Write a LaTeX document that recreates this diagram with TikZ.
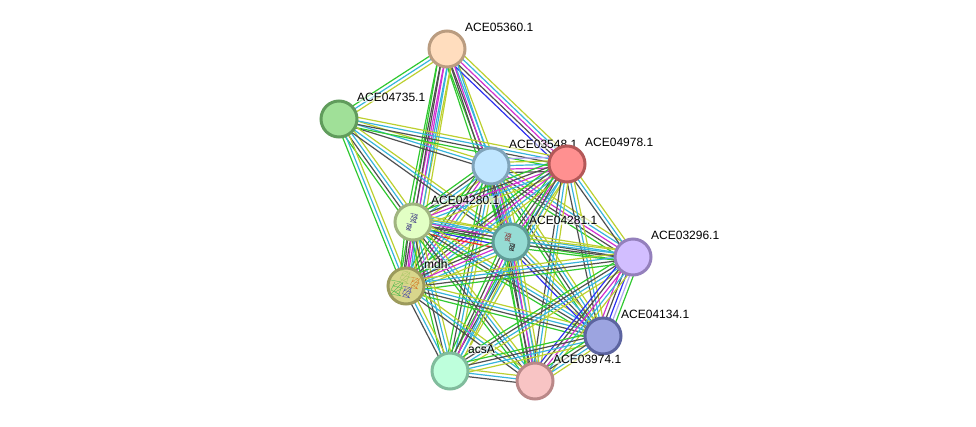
\documentclass[tikz,border=0pt]{standalone}
\usepackage{fontspec}
\setmainfont{Liberation Sans}
\usetikzlibrary{calc, positioning, backgrounds}

\definecolor{eg}{HTML}{30C830}
\definecolor{er}{HTML}{F02820}
\definecolor{eb}{HTML}{3030F0}
\definecolor{ek}{HTML}{505050}
\definecolor{em}{HTML}{D030D0}
\definecolor{ec}{HTML}{38B4DC}
\definecolor{ey}{HTML}{BCD030}
\definecolor{el}{HTML}{B0A8F0}

\tikzset{
  prot/.style={circle, draw, line width=3pt, minimum size=36pt, inner sep=0pt},
  lbl/.style={fill=white, fill opacity=0.6, text opacity=1, inner sep=0.5pt, font=\fontsize{12}{12}\selectfont},
  edge/.style={line width=1.2pt},
  glyph/.style={line width=0.35pt, line join=round}
}

% one bundle of parallel lines, 3.5pt apart
\newcommand{\bundle}[3]{
  \foreach \col [count=\n] in {#3} {\global\let\nlines\n}
  \foreach \col [count=\n] in {#3} {
    \pgfmathsetmacro{\off}{(\n-(\nlines+1)/2)*3.5}
    \draw[edge, \col] ($(#1)!\off pt!90:(#2)$) -- ($(#2)!\off pt!-90:(#1)$);
  }
}

% small tangle standing for a protein structure
\newcommand{\tangle}[4]{
  \draw[glyph, #4, shift={(#1,#2)}, scale=#3] (-3,-4) -- (2,-3) -- (-2,-1) -- (3,0) -- (-1,2) -- (2,4) -- (-3,3) -- (0,0) -- (3,-3) -- (1,3) -- (-3,1) -- (-1,-3);
}

\begin{document}
\begin{tikzpicture}[x=1pt, y=-1pt]
\useasboundingbox (0,0) rectangle (976,426);

\foreach \name/\px/\py/\colfill/\colline/\txt in {
  a/447/49/FFDDBE/BA9C80/ACE05360.1,
  b/339/119/A0E098/609C5C/ACE04735.1,
  c/491/166/C0E6FF/80A4BA/ACE03548.1,
  d/567/164/FF9090/B45858/ACE04978.1,
  e/413/222/E2FFC4/A0B480/ACE04280.1,
  f/511/242/96DCD4/609C96/ACE04281.1,
  h/406/286/D8D68C/9C9A5C/mdh,
  i/633/257/D2BEFF/9480BC/ACE03296.1,
  j/603/336/9CA4E0/5C64A0/ACE04134.1,
  k/450/371/BEFFDC/80BC9C/acsA,
  l/535/381/F8C4C4/BA8888/ACE03974.1}
{
  \definecolor{nf}{HTML}{\colfill}
  \definecolor{nd}{HTML}{\colline}
  \node[prot, fill=nf, draw=nd] (\name) at (\px,\py) {};
  \node[lbl, right=17.5pt of \name.center, yshift=21.5pt] (\name l) {\txt};
}

\tangle{414}{218}{1.2}{black!30!blue!30!gray}
\tangle{409}{227}{0.9}{black!30!blue!30!gray}
\tangle{508}{237}{1.1}{black!40!red!40!gray}
\tangle{512}{247}{1}{black!60!gray}
\tangle{397}{288}{2}{green!60!black!70!white}
\tangle{405}{277}{1.7}{yellow!60!green!80!black!70!white}
\tangle{415}{283}{1.5}{orange!80!black!80!white}
\tangle{407}{292}{1.5}{blue!30!gray}

\begin{pgfonlayer}{background}
\bundle{a}{b}{eg,ec,ey}
\bundle{a}{c}{eg,ek,ec,ey}
\bundle{a}{d}{eb,ek,em,ec,ey}
\bundle{a}{e}{eg,ek,em,ec,ey}
\bundle{a}{f}{eg,ek,em,ec}
\bundle{a}{h}{eg,ek,em,ec,ey}
\bundle{b}{c}{ek,ec,ey}
\bundle{b}{d}{eg,ek,ec,ey}
\bundle{b}{e}{eg,ek,ec,ey}
\bundle{b}{f}{ek,ec,ey}
\bundle{b}{h}{eg,ec,ey}
\bundle{c}{d}{ek,em,ec,ey,el}
\bundle{c}{e}{eg,ek,ec,ey}
\bundle{c}{f}{eg,eb,ek,em,ec,ey}
\bundle{c}{h}{eg,ek,em,ec,ey}
\bundle{c}{i}{eg,ek,em,ec,ey}
\bundle{c}{j}{eg,ek,ec,ey}
\bundle{c}{k}{eg,ek,ec,ey}
\bundle{c}{l}{eg,ek,ec,ey}
\bundle{d}{e}{eg,ek,em,ec,ey}
\bundle{d}{f}{eg,ek,em,ec,ey}
\bundle{d}{h}{eg,ek,em,ec,ey}
\bundle{d}{i}{ek,ec,ey}
\bundle{d}{j}{ek,ec,ey}
\bundle{d}{k}{eg,ek,ec,ey}
\bundle{d}{l}{ek,ec,ey}
\bundle{e}{f}{er,eb,ek,em,ec,ey}
\bundle{e}{h}{eg,ek,em,ec,ey}
\bundle{e}{i}{eg,ek,ec,ey}
\bundle{e}{j}{eg,ek,ec,ey}
\bundle{e}{k}{eg,ek,ec,ey}
\bundle{e}{l}{eg,ek,ec,ey}
\bundle{f}{h}{eg,ek,em,ec,ey}
\bundle{f}{i}{eg,ek,ec,ey}
\bundle{f}{j}{eb,ek,ec,ey}
\bundle{f}{k}{eg,ek,em,ec,ey}
\bundle{f}{l}{eg,ek,em,ec,ey}
\bundle{h}{i}{eg,ek,ec,ey}
\bundle{h}{j}{eg,ek,ec,ey}
\bundle{h}{k}{ek,ec,ey}
\bundle{h}{l}{ek,ec,ey}
\bundle{i}{j}{em,ek,eb,el,eg}
\bundle{i}{k}{eg,ek,ec,ey}
\bundle{i}{l}{eb,ek,em,ec,ey}
\bundle{j}{k}{eg,ek,ec,ey}
\bundle{j}{l}{eg,ek,ec,ey}
\bundle{k}{l}{ek,ec,ey}
\end{pgfonlayer}
\end{tikzpicture}
\end{document}
